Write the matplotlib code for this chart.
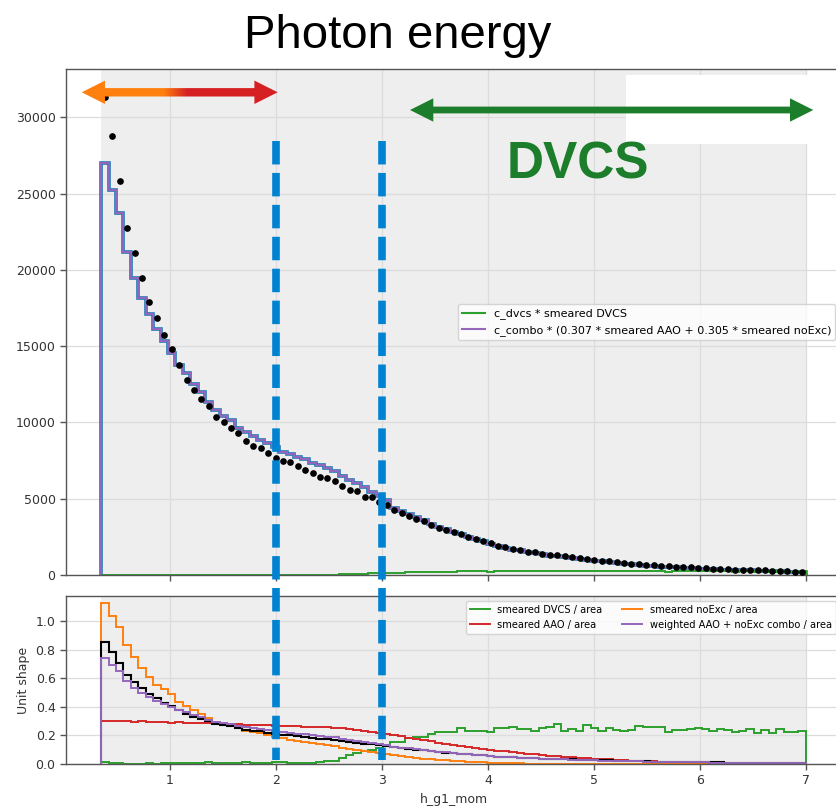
import numpy as np
import matplotlib
matplotlib.use("Agg")
import matplotlib.pyplot as plt
from matplotlib.patches import Polygon, Rectangle
from matplotlib.lines import Line2D
from matplotlib.transforms import blended_transform_factory

# binning of h_g1_mom (95 bins of 0.07 between 0.35 and 7.0)
x_lo, x_hi, n_bins = 0.35, 7.0, 95

# measured photon counts per bin
data_counts = [
    31300, 28750, 25850, 22770, 21100, 19450, 17860, 16830, 15720, 14820,
    13730, 12750, 12100, 11530, 11090, 10370, 10000, 9650, 9280, 8800,
    8450, 8340, 7970, 7700, 7450, 7380, 7140, 6880, 6680, 6420,
    6330, 6135, 5850, 5570, 5480, 5130, 5090, 4800, 4565, 4260,
    4060, 3865, 3690, 3515, 3275, 3100, 2950, 2795, 2665, 2510,
    2380, 2230, 2075, 1920, 1810, 1700, 1660, 1530, 1480, 1400,
    1330, 1290, 1250, 1190, 1120, 1060, 1000, 950, 900, 850,
    800, 750, 700, 670, 640, 600, 570, 545, 520, 495,
    465, 440, 415, 395, 380, 360, 345, 330, 310, 295,
    275, 260, 240, 220, 200,
]

# c_combo * (0.307 * AAO + 0.305 * noExc) in counts
combo_counts = [
    27000, 25260, 23730, 21180, 19470, 18120, 17080, 16110, 15330, 14520,
    13760, 13210, 12510, 12010, 11350, 10810, 10420, 10150, 9650, 9370,
    9100, 8840, 8620, 8400, 8080, 7920, 7750, 7600, 7310, 7200,
    6990, 6830, 6490, 6220, 6000, 5740, 5460, 5180, 4910, 4400,
    4180, 3970, 3780, 3590, 3360, 3160, 2990, 2820, 2670, 2510,
    2370, 2210, 2050, 1900, 1780, 1670, 1610, 1490, 1430, 1350,
    1270, 1230, 1180, 1120, 1060, 1000, 940, 890, 840, 790,
    740, 700, 650, 620, 590, 555, 525, 500, 475, 450,
    425, 400, 380, 360, 345, 325, 310, 295, 280, 265,
    250, 235, 215, 200, 180,
]

# unit-area shapes of the smeared samples
dvcs_shape = [
    0.012, 0.010, 0.004, 0.003, 0.003, 0.003, 0.004, 0.003, 0.004, 0.005,
    0.006, 0.006, 0.007, 0.008, 0.016, 0.009, 0.007, 0.008, 0.007, 0.011,
    0.008, 0.007, 0.008, 0.014, 0.013, 0.008, 0.009, 0.008, 0.010, 0.012,
    0.020, 0.022, 0.040, 0.061, 0.075, 0.093, 0.100, 0.112, 0.133, 0.154,
    0.154, 0.180, 0.191, 0.191, 0.212, 0.222, 0.222, 0.222, 0.250, 0.230,
    0.230, 0.230, 0.227, 0.250, 0.250, 0.262, 0.243, 0.243, 0.234, 0.254,
    0.261, 0.277, 0.231, 0.245, 0.231, 0.273, 0.254, 0.231, 0.249, 0.238,
    0.231, 0.238, 0.266, 0.261, 0.261, 0.261, 0.226, 0.238, 0.238, 0.243,
    0.254, 0.245, 0.231, 0.243, 0.238, 0.226, 0.231, 0.243, 0.214, 0.238,
    0.219, 0.243, 0.226, 0.226, 0.234,
]
aao_shape = [
    0.303, 0.300, 0.302, 0.298, 0.297, 0.299, 0.295, 0.296, 0.292, 0.290,
    0.291, 0.288, 0.289, 0.285, 0.284, 0.282, 0.283, 0.279, 0.278, 0.275,
    0.276, 0.272, 0.270, 0.268, 0.266, 0.263, 0.264, 0.261, 0.262, 0.259,
    0.256, 0.254, 0.250, 0.245, 0.240, 0.234, 0.226, 0.218, 0.210, 0.202,
    0.193, 0.183, 0.175, 0.167, 0.158, 0.150, 0.142, 0.135, 0.127, 0.120,
    0.113, 0.106, 0.100, 0.094, 0.088, 0.083, 0.078, 0.073, 0.068, 0.064,
    0.059, 0.055, 0.051, 0.048, 0.044, 0.041, 0.038, 0.035, 0.032, 0.029,
    0.027, 0.024, 0.022, 0.020, 0.018, 0.016, 0.015, 0.013, 0.012, 0.011,
    0.010, 0.009, 0.008, 0.007, 0.006, 0.006, 0.005, 0.004, 0.004, 0.003,
    0.003, 0.003, 0.002, 0.002, 0.002,
]
noexc_shape = [
    1.124, 1.037, 0.956, 0.832, 0.746, 0.673, 0.611, 0.552, 0.522, 0.490,
    0.436, 0.408, 0.378, 0.347, 0.319, 0.296, 0.284, 0.268, 0.250, 0.231,
    0.226, 0.214, 0.203, 0.191, 0.180, 0.170, 0.163, 0.156, 0.148, 0.140,
    0.131, 0.123, 0.115, 0.107, 0.099, 0.091, 0.083, 0.075, 0.068, 0.061,
    0.054, 0.048, 0.043, 0.038, 0.033, 0.029, 0.025, 0.021, 0.018, 0.015,
    0.013, 0.011, 0.009, 0.007, 0.006, 0.005, 0.004, 0.003, 0.003, 0.002,
    0.002, 0.001, 0.001, 0.001, 0.001, 0.001, 0.001, 0.0, 0.0, 0.0,
    0.0, 0.0, 0.0, 0.0, 0.0, 0.0, 0.0, 0.0, 0.0, 0.0,
    0.0, 0.0, 0.0, 0.0, 0.0, 0.0, 0.0, 0.0, 0.0, 0.0,
    0.0, 0.0, 0.0, 0.0, 0.0,
]
dvcs_norm = 1000.0   # c_dvcs * area of smeared DVCS

edges = np.linspace(x_lo, x_hi, n_bins + 1)
centers = 0.5 * (edges[1:] + edges[:-1])
width = edges[1] - edges[0]

data_counts = np.array(data_counts, dtype=float)
combo_counts = np.array(combo_counts, dtype=float)
data_shape = data_counts / (data_counts.sum() * width)
combo_shape = combo_counts / (combo_counts.sum() * width)
dvcs_counts = np.array(dvcs_shape) * dvcs_norm

plt.rcParams.update({
    "font.family": "DejaVu Sans",
    "font.size": 9,
    "axes.edgecolor": "#555555",
    "axes.linewidth": 1.0,
    "xtick.color": "#555555",
    "ytick.color": "#555555",
    "xtick.labelcolor": "#333333",
    "ytick.labelcolor": "#333333",
    "xtick.labelsize": 9,
    "ytick.labelsize": 9,
})

W, H = 836, 806
fig = plt.figure(figsize=(W / 100, H / 100), dpi=100)


def px_box(left, top, right, bottom):
    return [left / W, 1 - bottom / H, (right - left) / W, (bottom - top) / H]


ax = fig.add_axes(px_box(66, 69.3, 841, 575))
axr = fig.add_axes(px_box(66, 596, 841, 764), sharex=ax)

for a in (ax, axr):
    a.set_facecolor("white")
    a.axvspan(x_lo, x_hi, color="#eeeeee", lw=0, zorder=0.2)
    a.set_axisbelow(True)
    a.grid(True, color="#dcdcdc", lw=0.9)
    a.tick_params(length=4, width=1)

# top: counts
ax.stairs(combo_counts, edges, color="#1f77b4", lw=2.6, zorder=2)
ax.stairs(combo_counts, edges, color="#9467bd", lw=1.4, zorder=2.1)
ax.stairs(dvcs_counts, edges, color="#2ca02c", lw=1.4, zorder=2.2)
ax.errorbar(centers, data_counts, xerr=0.014, fmt="o", ms=3.8, color="black",
            elinewidth=1.6, capsize=0, zorder=3)
ax.set_ylim(0, 33140)
ax.set_xlim(0.0175, 7.3325)
ax.set_yticks(range(0, 30001, 5000))
ax.tick_params(labelbottom=False)
ax.legend([Line2D([], [], color="#2ca02c"), Line2D([], [], color="#9467bd")],
          ["c_dvcs * smeared DVCS",
           "c_combo * (0.307 * smeared AAO + 0.305 * smeared noExc)"],
          loc="center right", fontsize=8)

# bottom: unit shapes
axr.stairs(dvcs_shape, edges, color="#2ca02c", lw=1.4, label="smeared DVCS / area")
axr.stairs(aao_shape, edges, color="#d62728", lw=1.4, label="smeared AAO / area")
axr.stairs(noexc_shape, edges, color="#ff7f0e", lw=1.4, label="smeared noExc / area")
axr.stairs(data_shape, edges, color="black", lw=1.5)
axr.stairs(combo_shape, edges, color="#9467bd", lw=1.4,
           label="weighted AAO + noExc combo / area")
axr.set_ylim(0, 1.175)
axr.set_yticks([0.0, 0.2, 0.4, 0.6, 0.8, 1.0])
axr.set_xticks(range(1, 8))
axr.set_ylabel("Unit shape", fontsize=9, color="#333333")
axr.set_xlabel("h_g1_mom", fontsize=9, color="#333333")
axr.legend(ncol=2, loc="upper right", fontsize=7.1)

# vertical markers at 2 and 3 GeV across both panels
tr = blended_transform_factory(ax.transData, fig.transFigure)
for xv in (2.0, 3.0):
    fig.add_artist(Line2D([xv, xv], [1 - 141 / H, 1 - 760 / H], transform=tr,
                          color="#0082d2", lw=5.5, dashes=(3.07, 1.11),
                          solid_capstyle="butt", dash_capstyle="butt", zorder=20))

# annotation layer in pixel coordinates
ov = fig.add_axes([0, 0, 1, 1], facecolor="none", zorder=10)
ov.set_xlim(0, W)
ov.set_ylim(H, 0)
ov.axis("off")

ov.add_patch(Rectangle((626, 75), W - 626, 69, color="white", lw=0, zorder=1))


def double_arrow(x0, x1, yc, head_len, head_half, shaft_half):
    return [(x0, yc), (x0 + head_len, yc - head_half), (x0 + head_len, yc - shaft_half),
            (x1 - head_len, yc - shaft_half), (x1 - head_len, yc - head_half), (x1, yc),
            (x1 - head_len, yc + head_half), (x1 - head_len, yc + shaft_half),
            (x0 + head_len, yc + shaft_half), (x0 + head_len, yc + head_half)]


# orange -> red arrow over the low-energy range
arr = Polygon(double_arrow(81.7, 277.7, 92.3, 23.3, 11.7, 4.2), closed=True,
              facecolor="none", edgecolor="none", zorder=2)
ov.add_patch(arr)
xs = np.linspace(81.7, 277.7, 400)
orange = np.array([255, 128, 14]) / 255
red = np.array([214, 32, 36]) / 255
f = np.clip((xs - 163) / (187 - 163), 0, 1)[:, None]
grad = (orange * (1 - f) + red * f)[None, :, :]
im = ov.imshow(grad, extent=(81.7, 277.7, 105, 80), aspect="auto", zorder=2,
               interpolation="bilinear")
im.set_clip_path(arr)
ov.set_xlim(0, W)
ov.set_ylim(H, 0)

green = "#1c7d2b"
ov.add_patch(Polygon(double_arrow(410, 813.3, 110, 23.3, 11.7, 3.4), closed=True,
                     facecolor=green, edgecolor="none", zorder=3))
ov.text(578, 178.3, "DVCS", color=green, fontsize=37, fontweight="bold",
        family="Liberation Sans", ha="center", va="baseline", zorder=3)
ov.text(398, 48, "Photon energy", color="black", fontsize=34,
        family="Liberation Sans", ha="center", va="baseline", zorder=3)

fig.savefig("out.png", dpi=100)
